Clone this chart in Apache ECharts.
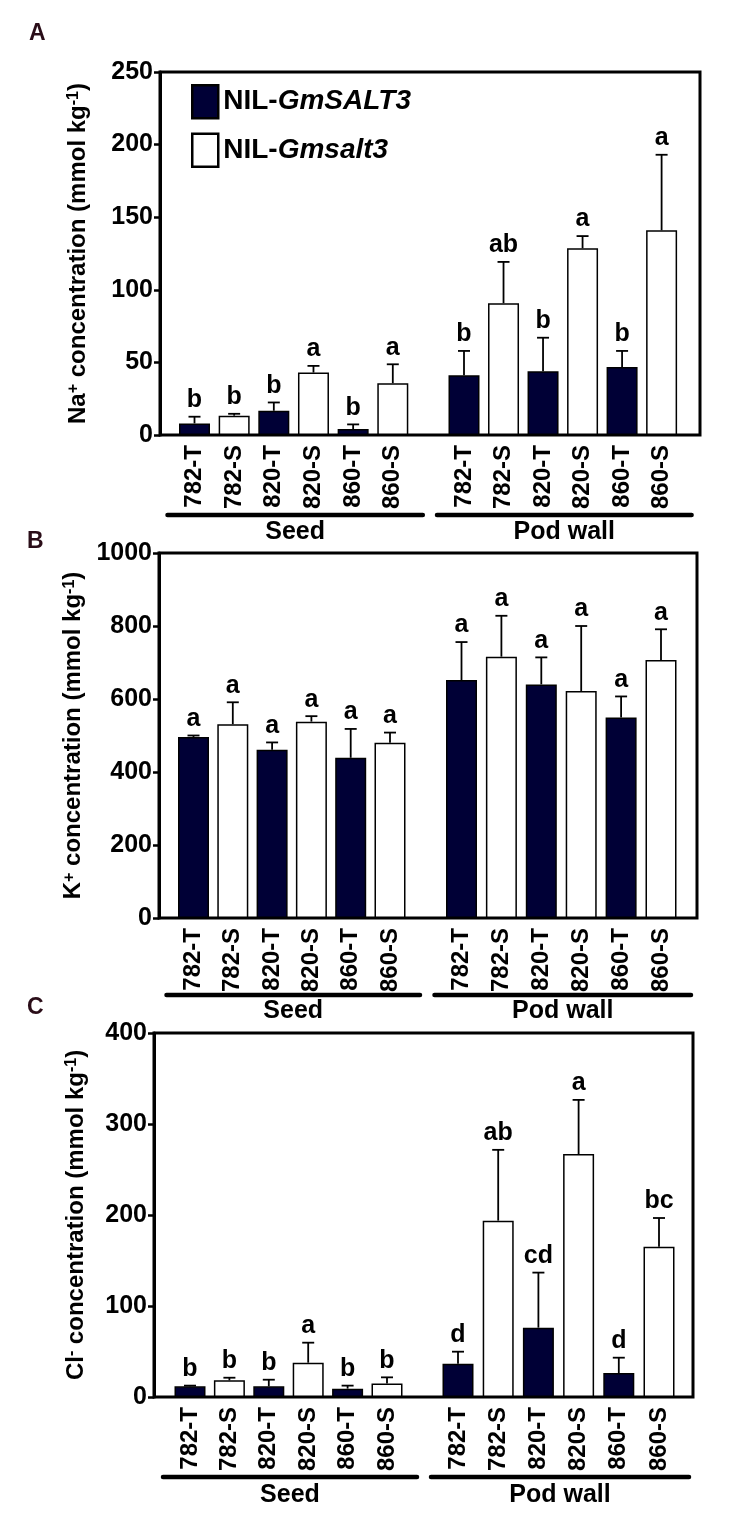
<!DOCTYPE html>
<html><head><meta charset="utf-8">
<script src="https://cdn.jsdelivr.net/npm/echarts@6/dist/echarts.min.js"></script>
<style>html,body{margin:0;padding:0;background:#fff}#c{width:739px;height:1535px}</style>
</head><body><div id="c"></div>
<script>
// ---------- data ----------
const categories = ['782-T','782-S','820-T','820-S','860-T','860-S'];
const groupNames = ['Seed','Pod wall'];
const seriesNames = ['NIL-GmSALT3','NIL-Gmsalt3'];
const panelLabels = ['A','B','C'];

const naSeedMean = [8.0, 13.3, 16.7, 43.0, 4.1, 35.7];
const naSeedSE   = [4.6, 1.3, 5.7, 4.6, 3.2, 13.0];
const naSeedLet  = ['b','b','b','a','b','a'];
const naPodMean  = [41.2, 90.8, 43.9, 128.6, 46.9, 141.0];
const naPodSE    = [16.7, 28.4, 23.1, 8.4, 11.0, 52.0];
const naPodLet   = ['b','ab','b','a','b','a'];
const naTicks    = [0, 250, 50];

const kSeedMean = [496, 531, 461, 538, 439, 480];
const kSeedSE   = [4, 60, 20, 15, 79, 28];
const kSeedLet  = ['a','a','a','a','a','a'];
const kPodMean  = [652, 716, 640, 622, 549, 707];
const kPodSE    = [104, 112, 74, 178, 58, 84];
const kPodLet   = ['a','a','a','a','a','a'];
const kTicks    = [0, 1000, 200];

const clSeedMean = [11.7, 18.3, 11.7, 37.7, 9.2, 14.7];
const clSeedSE   = [0.8, 2.9, 7.3, 22.0, 3.3, 6.9];
const clSeedLet  = ['b','b','b','a','b','b'];
const clPodMean  = [36.6, 193.8, 76.2, 267.0, 26.4, 165.0];
const clPodSE    = [13.2, 77.8, 60.5, 59.5, 16.8, 31.7];
const clPodLet   = ['d','ab','cd','a','d','bc'];
const clTicks    = [0, 400, 100];

// ---------- layout ----------
const FONT = '"Liberation Sans", Arial, Helvetica, sans-serif';
const DARK = '#000036';
const panels = [
  {name:'{t|Na}{s|+}{t| concentration (mmol kg}{s|-1}{t|)}', ticks:naTicks,
   groups:[[naSeedMean,naSeedSE,naSeedLet],[naPodMean,naPodSE,naPodLet]],
   L:160, R:700, T:72, B:435, centers:[[194.5,392.8],[464,661.6]], gap:70, lab:[37,35], ul:80, gl:97},
  {name:'{t|K}{s|+}{t| concentration (mmol kg}{s|-1}{t|)}', ticks:kTicks,
   groups:[[kSeedMean,kSeedSE,kSeedLet],[kPodMean,kPodSE,kPodLet]],
   L:159, R:697, T:553, B:918, centers:[[193.5,390],[461.5,661]], gap:70, lab:[35,543], ul:77, gl:93},
  {name:'{t|Cl}{s|-}{t| concentration (mmol kg}{s|-1}{t|)}', ticks:clTicks,
   groups:[[clSeedMean,clSeedSE,clSeedLet],[clPodMean,clPodSE,clPodLet]],
   L:154, R:693, T:1033, B:1397, centers:[[190,387],[458,659]], gap:66, lab:[35,1009], ul:80, gl:98}
];

function makeErr(letters){
  return function(params, api){
    const x = api.value(0), m = api.value(1), t = api.value(2);
    const p0 = api.coord([x, m]), p1 = api.coord([x, t]);
    const cx = p0[0];
    return {type:'group', children:[
      {type:'line', shape:{x1:cx,y1:p0[1],x2:cx,y2:p1[1]}, style:{stroke:'#000', lineWidth:1.8}},
      {type:'line', shape:{x1:cx-6,y1:p1[1],x2:cx+6,y2:p1[1]}, style:{stroke:'#000', lineWidth:1.8}},
      {type:'text', x:cx, y:p1[1]-4, style:{text:letters[params.dataIndex], fill:'#000',
        font:'bold 25px ' + FONT, align:'center', verticalAlign:'bottom'}}
    ]};
  };
}

const grid = [], xAxis = [], yAxis = [], series = [];
panels.forEach((p, k) => {
  const [ymin, ymax, yint] = p.ticks;
  grid.push({left:p.L, top:p.T, width:p.R-p.L, height:p.B-p.T, show:true, borderColor:'#000', borderWidth:3,
             backgroundColor:'transparent', containLabel:false, outerBoundsMode:'none'});
  xAxis.push({gridIndex:3*k, type:'value', show:false});
  yAxis.push({gridIndex:3*k, type:'value', min:ymin, max:ymax, interval:yint,
    axisLine:{show:true, lineStyle:{color:'#000', width:3}},
    axisTick:{show:true, inside:false, length:6, lineStyle:{color:'#000', width:2.5}},
    axisLabel:{fontSize:25, fontWeight:'bold', color:'#000', margin:7, fontFamily:FONT, formatter:v => String(v)},
    splitLine:{show:false},
    name:p.name, nameLocation:'middle', nameGap:p.gap, nameRotate:90,
    nameTextStyle:{rich:{
      t:{fontSize:24, fontWeight:'bold', color:'#000', fontFamily:FONT},
      s:{fontSize:16, fontWeight:'bold', color:'#000', fontFamily:FONT, verticalAlign:'top'}
    }}
  });
  p.groups.forEach((g, j) => {
    const gi = 3*k + 1 + j;
    const [c0, c5] = p.centers[j];
    const pitch = (c5 - c0) / 5;
    grid.push({left:c0 - pitch/2, width:pitch*6, top:p.T, height:p.B-p.T, show:false,
               containLabel:false, outerBoundsMode:'none'});
    xAxis.push({gridIndex:gi, type:'category', data:categories, boundaryGap:true,
      axisLine:{show:false}, axisTick:{show:false},
      axisLabel:{interval:0, rotate:90, fontSize:24, fontWeight:'bold', color:'#000', margin:10, fontFamily:FONT}});
    yAxis.push({gridIndex:gi, type:'value', min:ymin, max:ymax, interval:yint, show:false});
    const [mean, se, let_] = g;
    const tData = mean.map((v,i) => i % 2 === 0 ? v : '-');
    const sData = mean.map((v,i) => i % 2 === 1 ? v : '-');
    series.push({type:'bar', name:seriesNames[0], xAxisIndex:gi, yAxisIndex:gi, data:tData,
      barWidth:31, barGap:'-100%', itemStyle:{color:DARK, borderColor:'#000', borderWidth:1.5}, silent:true, animation:false});
    series.push({type:'bar', name:seriesNames[1], xAxisIndex:gi, yAxisIndex:gi, data:sData,
      barWidth:31, barGap:'-100%', itemStyle:{color:'#fff', borderColor:'#000', borderWidth:1.5}, silent:true, animation:false});
    series.push({type:'custom', xAxisIndex:gi, yAxisIndex:gi, z:5, animation:false, silent:true,
      data:mean.map((v,i) => [i, v, v + se[i]]), renderItem:makeErr(let_)});
  });
});

const option = {
  animation:false,
  backgroundColor:'#fff',
  grid, xAxis, yAxis, series,
  legend:{
    orient:'vertical', left:186, top:79, itemWidth:26, itemHeight:33, itemGap:13,
    selectedMode:false, icon:'rect',
    data:[
      {name:seriesNames[0], itemStyle:{color:DARK, borderColor:'#000', borderWidth:2.5}},
      {name:seriesNames[1], itemStyle:{color:'#fff', borderColor:'#000', borderWidth:2.5}}
    ],
    formatter: n => '{r|NIL-}{i|' + n.slice(4) + '}',
    textStyle:{fontSize:28, fontWeight:'bold', color:'#000', fontFamily:FONT, padding:[0,0,0,0],
      rich:{r:{fontSize:28, fontWeight:'bold', color:'#000', fontFamily:FONT},
            i:{fontSize:28, fontWeight:'bold', fontStyle:'italic', color:'#000', fontFamily:FONT}}}
  }
};

const chart = echarts.init(document.getElementById('c'), null, {renderer:'canvas'});
chart.setOption(option);

const graphic = [];
panels.forEach((p, k) => {
  graphic.push({type:'text', left:p.lab[0]-8, top:p.lab[1]-13,
    style:{text:panelLabels[k], font:'bold 23px ' + FONT, fill:'#2a0d18'}});
  [0,1].forEach(j => {
    const xi = 3*k + 1 + j;
    const a = chart.convertToPixel({xAxisIndex:xi}, 0);
    const b = chart.convertToPixel({xAxisIndex:xi}, categories.length - 1);
    const x1 = a - 27, x2 = b + 30, y = p.B + p.ul;
    graphic.push({type:'line', shape:{x1, y1:y, x2, y2:y}, style:{stroke:'#000', lineWidth:4.5, lineCap:'round'}});
    graphic.push({type:'text', x:(x1+x2)/2, y:p.B + p.gl,
      style:{text:groupNames[j], font:'bold 25px ' + FONT, fill:'#000', align:'center', verticalAlign:'middle'}});
  });
});
chart.setOption({graphic});
</script></body></html>
